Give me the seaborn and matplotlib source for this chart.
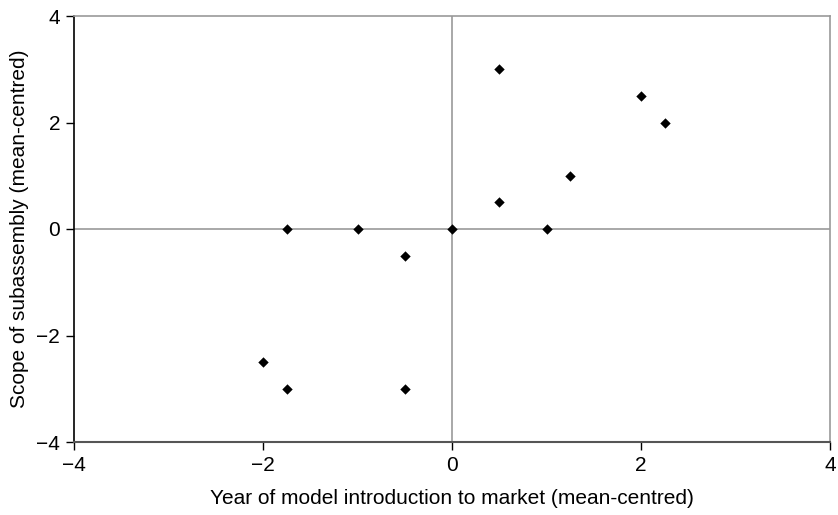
import matplotlib
matplotlib.use("Agg")
import matplotlib.pyplot as plt
import seaborn as sns
import pandas as pd

x_vals = [0.5, 2.0, 2.25, 1.25, 0.5, 1.0, 0.0, -1.0, -1.75, -0.5, -2.0, -1.75, -0.5]
y_vals = [3.0, 2.5, 2.0, 1.0, 0.5, 0.0, 0.0, 0.0, 0.0, -0.5, -2.5, -3.0, -3.0]
ticks = [-4, -2, 0, 2, 4]
tick_labels = ["\u22124", "\u22122", "0", "2", "4"]

df = pd.DataFrame({"x": x_vals, "y": y_vals})

sns.set_style("white")
plt.rcParams["font.family"] = ["Liberation Sans", "DejaVu Sans"]
plt.rcParams["text.color"] = "black"
plt.rcParams["axes.labelcolor"] = "black"
plt.rcParams["xtick.color"] = "black"
plt.rcParams["ytick.color"] = "black"

fig = plt.figure(figsize=(8.38, 5.15), dpi=100)
ax = fig.add_axes([74/838, 1-442/515, (830-74)/838, (442-16)/515])

ax.axhline(0, color="#999999", lw=1.2, zorder=1)
ax.axvline(0, color="#999999", lw=1.2, zorder=1)

sns.scatterplot(data=df, x="x", y="y", marker="D", s=28, color="black",
                edgecolor="black", linewidth=0, ax=ax, zorder=3)

ax.set_xlim(-4, 4)
ax.set_ylim(-4, 4)
ax.set_xticks(ticks)
ax.set_xticklabels(tick_labels)
ax.set_yticks(ticks)
ax.set_yticklabels(tick_labels)
ax.tick_params(axis="both", direction="out", length=6, width=1, color="black",
               labelcolor="black", labelsize=15, pad=4, bottom=True, left=True)
ax.set_xlabel("Year of model introduction to market (mean-centred)", fontsize=15,
              labelpad=10, color="black")
ax.set_ylabel("Scope of subassembly (mean-centred)", fontsize=15, labelpad=5,
              color="black")

for side in ["top", "right"]:
    ax.spines[side].set_color("#999999")
    ax.spines[side].set_linewidth(1.2)
ax.spines["left"].set_color("black")
ax.spines["left"].set_linewidth(1.2)
ax.spines["bottom"].set_color("#555555")
ax.spines["bottom"].set_linewidth(1.5)

fig.savefig("out.png", dpi=100)
